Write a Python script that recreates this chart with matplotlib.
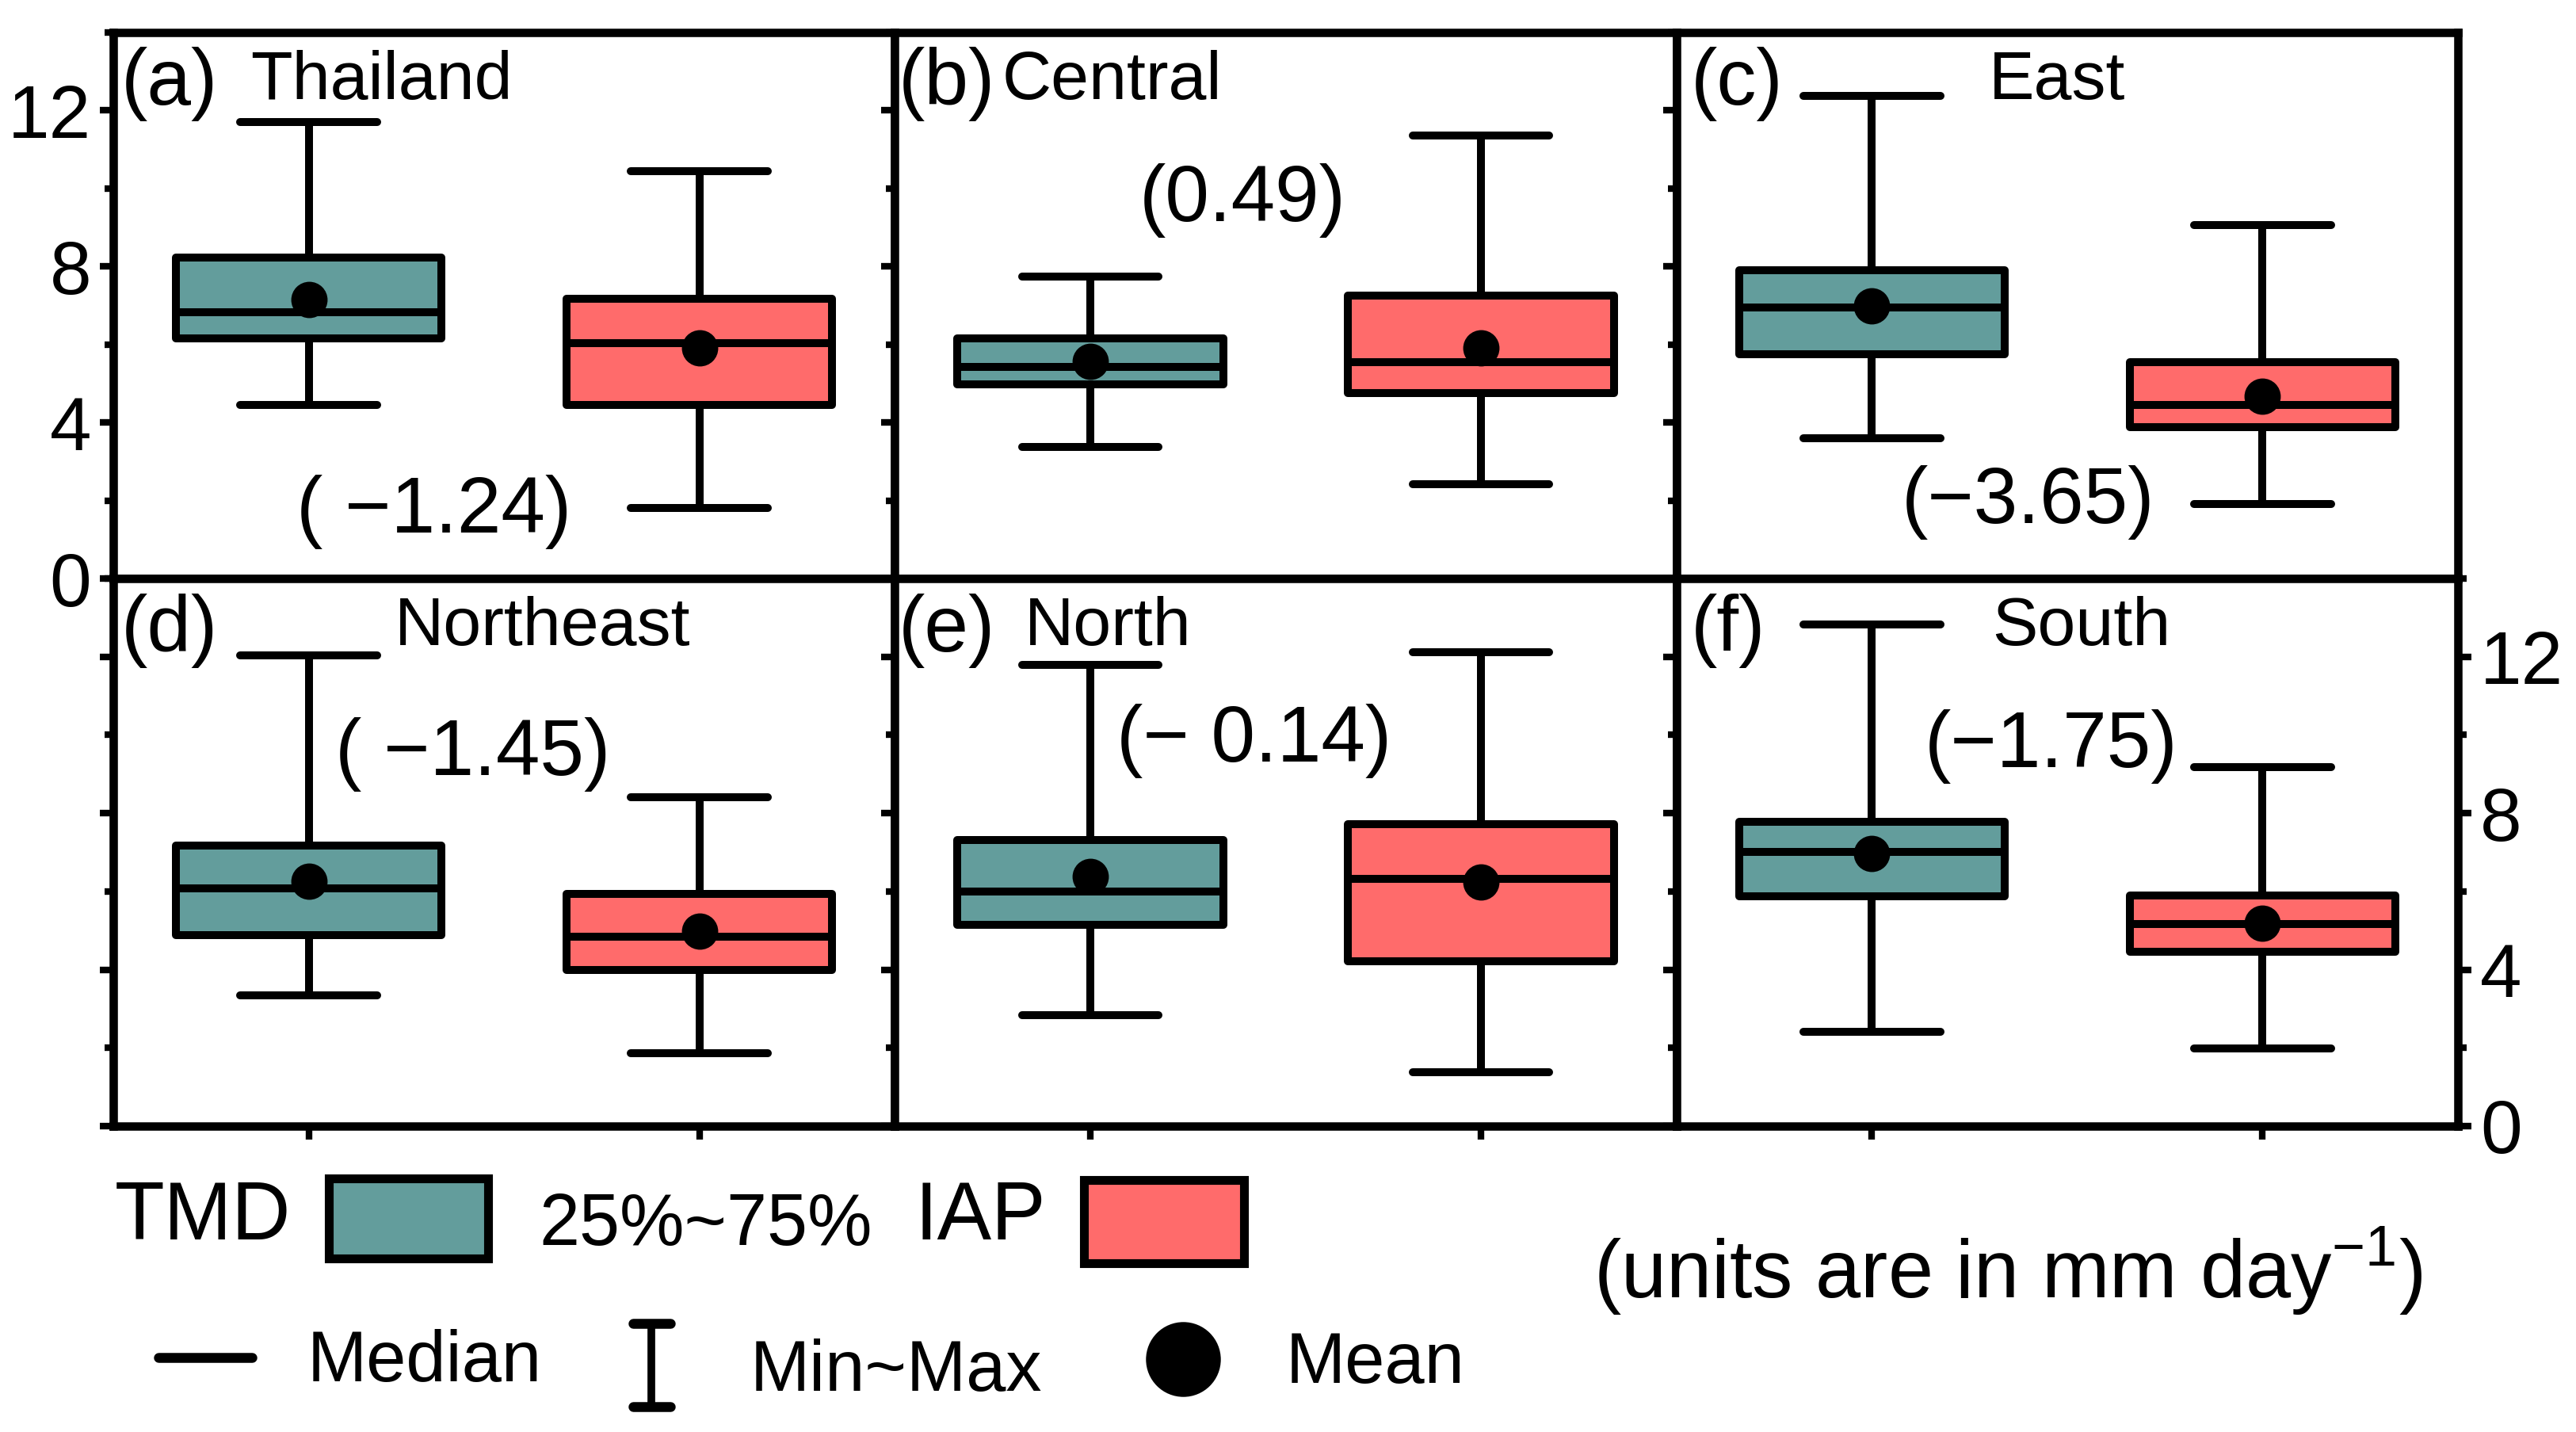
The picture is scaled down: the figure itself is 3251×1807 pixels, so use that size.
import matplotlib
matplotlib.use("Agg")
import matplotlib.pyplot as plt
from matplotlib.patches import Rectangle
from matplotlib.ticker import MultipleLocator

plt.rcParams['font.family'] = ['Liberation Sans', 'DejaVu Sans']
plt.rcParams['mathtext.fontset'] = 'custom'
plt.rcParams['mathtext.rm'] = 'Liberation Sans'

# ---------------- data ----------------
panel_letters = ['(a)', '(b)', '(c)', '(d)', '(e)', '(f)']
regions = ['Thailand', 'Central', 'East', 'Northeast', 'North', 'South']
diff_labels = ['( \u22121.24)', '(0.49)', '(\u22123.65)', '( \u22121.45)', '(\u2212 0.14)', '(\u22121.75)']

tmd_min  = [4.44, 3.37, 3.60, 3.35, 2.83, 2.41]
tmd_q1   = [6.16, 4.98, 5.75, 4.89, 5.14, 5.88]
tmd_med  = [6.82, 5.42, 6.95, 6.08, 6.00, 7.02]
tmd_mean = [7.15, 5.57, 7.00, 6.26, 6.38, 6.97]
tmd_q3   = [8.23, 6.16, 7.91, 7.17, 7.32, 7.79]
tmd_max  = [11.71, 7.74, 12.38, 12.03, 11.79, 12.83]

iap_min  = [1.80, 2.42, 1.92, 1.87, 1.37, 1.98]
iap_q1   = [4.46, 4.76, 3.88, 4.00, 4.22, 4.46]
iap_med  = [6.04, 5.54, 4.44, 4.84, 6.33, 5.16]
iap_mean = [5.92, 5.92, 4.68, 4.99, 6.25, 5.19]
iap_q3   = [7.18, 7.25, 5.54, 5.93, 7.72, 5.90]
iap_max  = [10.45, 11.36, 9.07, 8.41, 12.11, 9.18]

yticks_major = [0, 4, 8, 12]

# ---------------- layout / style ----------------
W, H, DPI = 3251, 1807, 200
TMD_COLOR = '#639D9C'
IAP_COLOR = '#FF6B6B'
LW = 3.6

fig = plt.figure(figsize=(W / DPI, H / DPI), dpi=DPI)

left, right = 143 / W, 3102 / W
top, mid, bot = 1 - 41 / H, 1 - 730 / H, 1 - 1421 / H
pw = (right - left) / 3

# title positions (axes fraction) for region name
name_x = [0.176, 0.137, 0.40, 0.36, 0.166, 0.404]
letter_x = [0.010, 0.004, 0.018, 0.010, 0.004, 0.018]
# annotation positions in data coords
ann_pos = [(1.32, 1.7), (1.39, 9.7), (1.40, 1.95), (1.42, 9.5), (1.42, 9.85), (1.46, 9.7)]

for i in range(6):
    r, c = divmod(i, 3)
    y0 = mid if r == 0 else bot
    hgt = (top - mid) if r == 0 else (mid - bot)
    ax = fig.add_axes([left + c * pw, y0, pw, hgt])
    stats = [
        dict(whislo=tmd_min[i], q1=tmd_q1[i], med=tmd_med[i], mean=tmd_mean[i],
             q3=tmd_q3[i], whishi=tmd_max[i], fliers=[]),
        dict(whislo=iap_min[i], q1=iap_q1[i], med=iap_med[i], mean=iap_mean[i],
             q3=iap_q3[i], whishi=iap_max[i], fliers=[]),
    ]
    bp = ax.bxp(stats, positions=[1, 2], widths=0.68, capwidths=0.35,
                showmeans=True, patch_artist=True,
                boxprops=dict(linewidth=LW, edgecolor='black'),
                medianprops=dict(color='black', linewidth=LW),
                whiskerprops=dict(color='black', linewidth=LW),
                capprops=dict(color='black', linewidth=LW, solid_capstyle='round'),
                meanprops=dict(marker='o', markerfacecolor='black',
                               markeredgecolor='black', markersize=15.5))
    bp['boxes'][0].set_facecolor(TMD_COLOR)
    bp['boxes'][1].set_facecolor(IAP_COLOR)
    for b in bp['boxes']:
        b.set_joinstyle('round')

    ax.set_xlim(0.5, 2.5)
    ax.set_ylim(0, 14)
    ax.yaxis.set_major_locator(MultipleLocator(4))
    ax.yaxis.set_minor_locator(MultipleLocator(2))
    ax.set_xticks([1, 2])
    ax.set_xticklabels([])
    for s in ax.spines.values():
        s.set_linewidth(3.8)
    ax.tick_params(axis='both', which='major', direction='out', length=6,
                   width=3, labelsize=34, pad=4)
    ax.tick_params(axis='y', which='minor', direction='out', length=4, width=3)
    if i == 0:
        ax.set_yticks(yticks_major)
        ax.set_yticklabels([str(v) for v in yticks_major])
    elif i == 5:
        ax.tick_params(axis='y', which='both', left=True, right=True,
                       labelleft=False, labelright=True)
        ax.set_yticks(yticks_major)
        ax.set_yticklabels([str(v) for v in yticks_major])
    else:
        ax.tick_params(axis='y', which='both', labelleft=False)

    ax.text(letter_x[i], 0.905, panel_letters[i], transform=ax.transAxes,
            fontsize=36, ha='left', va='center')
    ax.text(name_x[i], 0.91, regions[i], transform=ax.transAxes,
            fontsize=31, ha='left', va='center')
    ax.text(ann_pos[i][0], ann_pos[i][1], diff_labels[i], fontsize=36,
            ha='center', va='center')

# ---------------- legend (figure pixel coords) ----------------
lg = fig.add_axes([0, 0, 1, 1], zorder=-1)
lg.set_xlim(0, W)
lg.set_ylim(H, 0)
lg.axis('off')

lg.text(145, 1538, 'TMD', fontsize=37, ha='left', va='center')
lg.add_patch(Rectangle((415, 1487), 201, 101, facecolor=TMD_COLOR,
                       edgecolor='black', linewidth=4))
lg.text(680, 1547, '25%~75%', fontsize=33, ha='left', va='center')
lg.text(1155, 1538, 'IAP', fontsize=37, ha='left', va='center')
lg.add_patch(Rectangle((1368, 1489), 202, 105, facecolor=IAP_COLOR,
                       edgecolor='black', linewidth=4))

lg.plot([200, 318], [1713, 1713], color='black', linewidth=4.5,
        solid_capstyle='round')
lg.text(388, 1720, 'Median', fontsize=32.5, ha='left', va='center')
lg.plot([822, 822], [1670, 1775], color='black', linewidth=3.5)
lg.plot([799, 846], [1670, 1670], color='black', linewidth=4.5, solid_capstyle='round')
lg.plot([799, 846], [1775, 1775], color='black', linewidth=4.5, solid_capstyle='round')
lg.text(947, 1732, 'Min~Max', fontsize=32.5, ha='left', va='center')
lg.plot([1493], [1715], marker='o', color='black', markersize=33)
lg.text(1623, 1722, 'Mean', fontsize=32.5, ha='left', va='center')

lg.text(2011, 1604, '(units are in mm day$^{\\mathregular{-1}}$)', fontsize=37,
        ha='left', va='center')

fig.savefig('out.png', dpi=DPI)
